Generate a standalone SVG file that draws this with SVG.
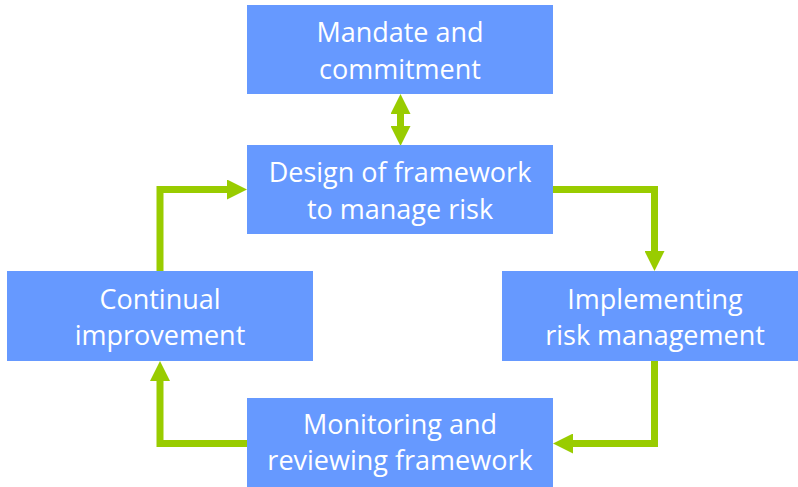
<svg xmlns="http://www.w3.org/2000/svg" width="798" height="487" viewBox="0 0 798 487">
  <style>
    .box { fill: #6699FF; }
    .lbl { font-family: "Open Sans", "Noto Sans", sans-serif; font-size: 27px; fill: #FFFFFF; text-anchor: middle; }
    .conn { fill: none; stroke: #99CC00; stroke-width: 7; stroke-linejoin: miter; }
  </style>
  <defs>
    <marker id="ah" viewBox="0 0 20 20" refX="0" refY="10" markerWidth="20" markerHeight="20" markerUnits="userSpaceOnUse" orient="auto-start-reverse">
      <path d="M0,0 L20,10 L0,20 Z" fill="#99CC00"/>
    </marker>
  </defs>
  <rect width="798" height="487" fill="#FFFFFF"/>

  <g id="connectors">
    <path class="conn" d="M400.5,114 V126" marker-start="url(#ah)" marker-end="url(#ah)"/>
    <path class="conn" d="M553,189.5 H654.5 V251" marker-end="url(#ah)"/>
    <path class="conn" d="M654.5,361 V443.5 H573" marker-end="url(#ah)"/>
    <path class="conn" d="M247,443.5 H160 V381" marker-end="url(#ah)"/>
    <path class="conn" d="M160,271 V189.5 H227" marker-end="url(#ah)"/>
  </g>

  <g id="mandate">
    <rect class="box" x="247" y="5" width="306" height="89"/>
    <text class="lbl" x="400" y="42">Mandate and</text>
    <text class="lbl" x="400" y="78.5">commitment</text>
  </g>

  <g id="design">
    <rect class="box" x="247" y="145" width="306" height="89"/>
    <text class="lbl" x="400" y="182">Design of framework</text>
    <text class="lbl" x="400" y="218.5">to manage risk</text>
  </g>

  <g id="continual">
    <rect class="box" x="7" y="271" width="306" height="90"/>
    <text class="lbl" x="160" y="309">Continual</text>
    <text class="lbl" x="160" y="345">improvement</text>
  </g>

  <g id="implementing">
    <rect class="box" x="502" y="271" width="306" height="90"/>
    <text class="lbl" x="655" y="308.5">Implementing</text>
    <text class="lbl" x="655" y="345">risk management</text>
  </g>

  <g id="monitoring">
    <rect class="box" x="247" y="398" width="306" height="90"/>
    <text class="lbl" x="400" y="433.5">Monitoring and</text>
    <text class="lbl" x="400" y="470">reviewing framework</text>
  </g>
</svg>
